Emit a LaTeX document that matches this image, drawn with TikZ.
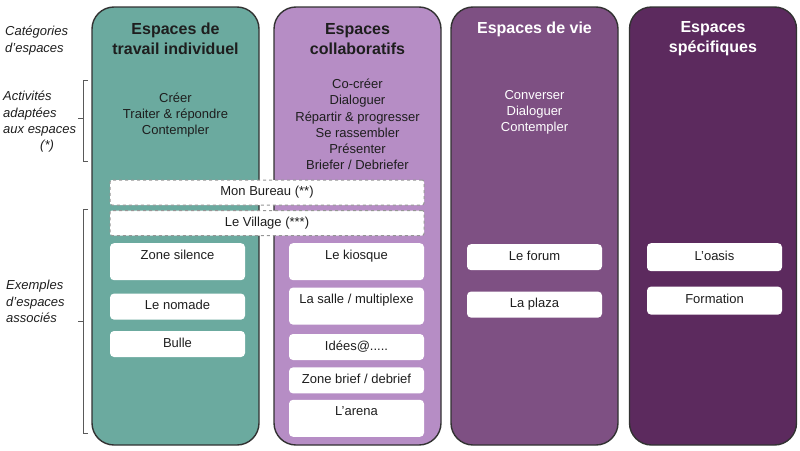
\documentclass[tikz,border=0pt]{standalone}
\usepackage{fontspec}
\setmainfont{Liberation Sans}
\usetikzlibrary{positioning}
\definecolor{tealcol}{RGB}{107,170,159}
\definecolor{lilac}{RGB}{182,141,197}
\definecolor{plum}{RGB}{126,80,131}
\definecolor{aubergine}{RGB}{92,42,94}
\definecolor{edge}{RGB}{50,50,50}
\definecolor{ink}{RGB}{30,30,30}
\definecolor{dashgray}{RGB}{150,150,150}
\tikzset{
  col/.style={draw=edge,line width=1.4pt,rounded corners=22pt,minimum width=167pt,minimum height=438pt,inner sep=0pt},
  ttl/.style={font=\bfseries\fontsize{16}{20}\selectfont,align=center},
  act/.style={font=\fontsize{13}{16.3}\selectfont,align=center},
  cat/.style={font=\itshape\fontsize{13}{16.3}\selectfont,align=left,anchor=west,inner sep=0pt,text=ink},
  room/.style={fill=white,rounded corners=4pt,minimum width=135pt,inner xsep=0pt,inner ysep=6.5pt,text height=9.5pt,text depth=3.5pt,anchor=north,font=\fontsize{13}{16}\selectfont,text=ink},
  tall/.style={text depth=14.5pt},
  shared/.style={draw=dashgray,dashed,line width=1pt,fill=white,rounded corners=2pt,minimum width=314pt,inner xsep=0pt,inner ysep=6pt,text height=9.5pt,text depth=3.5pt,font=\fontsize{13}{16}\selectfont,text=ink},
  brace/.style={draw=gray!70!black,line width=0.6pt}
}
\begin{document}
\begin{tikzpicture}[x=1pt,y=-1pt]
  \useasboundingbox (0,0) rectangle (800,450);
  % columns
  \node[col,fill=tealcol] (c1) at (175.5,226) {};
  \node[col,fill=lilac] (c2) at (357.5,226) {};
  \node[col,fill=plum] (c3) at (534.5,226) {};
  \node[col,fill=aubergine] (c4) at (713,226) {};
  \node[ttl,text=ink] (t1) at (175.5,39) {Espaces de\\travail individuel};
  \node[ttl,text=ink] (t2) at (357.5,39) {Espaces\\collaboratifs};
  \node[ttl,text=white] (t3) at (534.5,29) {Espaces de vie};
  \node[ttl,text=white] (t4) at (713,39) {Espaces\\spécifiques};
  % activities
  \node[act,text=ink] (a1) at (175.5,115) {Créer\\Traiter \& répondre\\Contempler};
  \node[act,text=ink] (a2) at (357.5,124.5) {Co-créer\\Dialoguer\\Répartir \& progresser\\Se rassembler\\Présenter\\Briefer / Debriefer};
  \node[act,text=white] (a3) at (534.5,112.5) {Converser\\Dialoguer\\Contempler};
  % left labels
  \node[cat] (lcat) at (5,40.5) {Catégories\\d'espaces};
  \node[cat] (lact) at (3,122) {Activités\\adaptées\\aux espaces\\\hspace*{37pt}(*)};
  \node[cat] (lex) at (6,301.5) {Exemples\\d'espaces\\associés};
  \draw[brace] (88,80) -- (83,80) -- (83,161) -- (88,161) (83,118) -- (78,118);
  \draw[brace] (88,209) -- (83,209) -- (83,433) -- (88,433) (83,321) -- (78,321);
  % shared spaces
  \node[shared] (bureau) at (267,192.5) {Mon Bureau (**)};
  \node[shared] (village) at (267,223) {Le Village (***)};
  % rooms
  \node[room,tall] (silence) at (177.5,243) {Zone silence};
  \node[room,below=13pt of silence] (nomade) {Le nomade};
  \node[room,below=11pt of nomade] (bulle) {Bulle};
  \node[room,tall] (kiosque) at (356.5,243) {Le kiosque};
  \node[room,tall,below=7pt of kiosque] (salle) {La salle / multiplexe};
  \node[room,below=9pt of salle] (idees) {Idées@.....};
  \node[room,below=7pt of idees] (brief) {Zone brief / debrief};
  \node[room,tall,below=6pt of brief] (arena) {L'arena};
  \node[room] (forum) at (534.5,244) {Le forum};
  \node[room,below=21pt of forum] (plaza) {La plaza};
  \node[room,inner ysep=7.5pt] (oasis) at (714.5,243) {L'oasis};
  \node[room,inner ysep=7.5pt,below=15pt of oasis] (formation) {Formation};
\end{tikzpicture}
\end{document}
